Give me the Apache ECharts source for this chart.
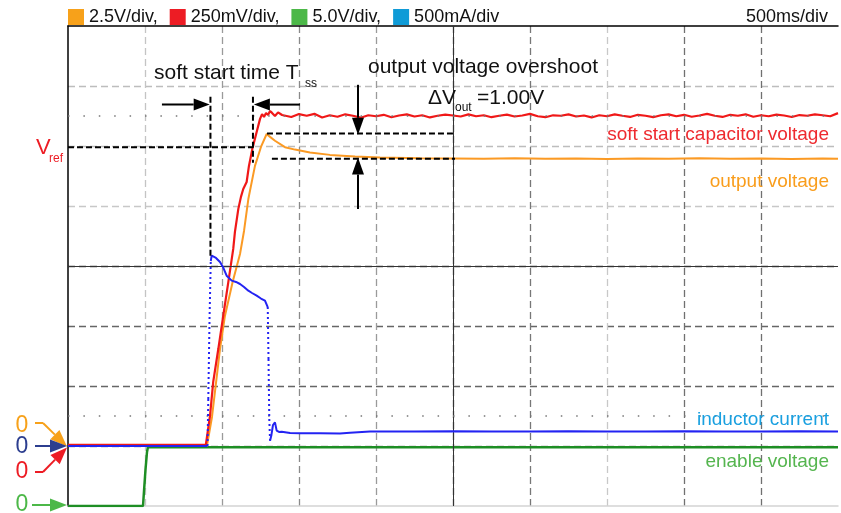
<!DOCTYPE html>
<html><head><meta charset="utf-8">
<script src="https://cdn.jsdelivr.net/npm/echarts@6/dist/echarts.min.js"></script>
<style>html,body{margin:0;padding:0;background:#fff}#c{width:841px;height:513px}</style>
</head><body><div id="c"></div>
<script>
// ---- data (time in ms, values in physical units) ----
const legendLabels = ['2.5V/div,', '250mV/div,', '5.0V/div,', '500mA/div'];
const timeLabel = '500ms/div';
const traceLabels = ['soft start capacitor voltage', 'output voltage', 'inductor current', 'enable voltage'];
const voltsPerDiv = [2.5, 0.25, 5.0, 0.5];     // orange, red, green, blue
const zeroDivs = [-3, -3, -4, -3];

// output voltage (V)
const outputVoltage = [[-2500,0],[-1598,0],[-1565,1.21],[-1513,4.04],[-1481,5.42],[-1431,6.83],[-1383,8.0],[-1357,8.96],[-1329,10.29],[-1286,11.67],[-1247,12.46],[-1210,13.0],[-1188,12.88],[-1156,12.72],[-1091,12.45],[-1026,12.35],[-929,12.23],[-799,12.13],[-636,12.06],[-474,12.02],[-214,11.99],[0,11.98],[200,11.97],[400,11.99],[600,11.97],[800,11.98],[1000,11.96],[1200,11.98],[1400,11.97],[1600,11.99],[1800,11.97],[2000,11.98],[2200,11.96],[2400,11.98],[2500,11.97]];
// soft start capacitor voltage (V)
const softStartVoltage = [[-2500,0.005],[-1605,0.005],[-1600,0.008],[-1578,0.125],[-1557,0.267],[-1524,0.404],[-1492,0.542],[-1459,0.683],[-1427,0.821],[-1416,0.892],[-1394,0.988],[-1377,1.038],[-1362,1.071],[-1340,1.100],[-1325,1.167],[-1303,1.238],[-1275,1.308],[-1253,1.363],[-1240,1.383],[-1227,1.371],[-1214,1.388],[-1201,1.379],[-1188,1.396],[-1175,1.388],[-1156,1.375],[-1136,1.390],[-1110,1.379],
[-1050,1.371],[-1000,1.383],[-950,1.376],[-900,1.384],[-850,1.369],[-800,1.378],[-750,1.372],[-700,1.382],[-650,1.376],[-600,1.368],[-550,1.378],[-500,1.374],[-450,1.380],[-400,1.370],[-350,1.377],[-300,1.382],[-250,1.373],[-200,1.378],[-150,1.369],[-100,1.376],[-50,1.381],[0,1.377],[50,1.373],[100,1.382],[150,1.374],[200,1.378],[250,1.370],[300,1.376],[350,1.381],[400,1.373],[450,1.377],[500,1.384],[550,1.374],[600,1.370],[650,1.378],[700,1.376],[750,1.382],[800,1.373],[850,1.377],[900,1.369],[950,1.378],[1000,1.374],[1050,1.382],[1100,1.376],[1150,1.371],[1200,1.380],[1250,1.376],[1300,1.370],[1350,1.378],[1400,1.382],[1450,1.374],[1500,1.380],[1550,1.372],[1600,1.377],[1650,1.384],[1700,1.376],[1750,1.371],[1800,1.380],[1850,1.376],[1900,1.382],[1950,1.372],[2000,1.378],[2050,1.374],[2100,1.381],[2150,1.377],[2200,1.371],[2250,1.379],[2300,1.376],[2350,1.382],[2400,1.378],[2450,1.374],[2500,1.387]];
// enable voltage (V)
const enableVoltage = [[-2500,0],[-2013,0],[-2006,1.33],[-1997,3.0],[-1987,4.5],[-1981,4.9],[2500,4.9]];
// inductor current (A)
const inductorCurrent = [[-2500,0],[-1594,0],[-1589,0.392],[-1581,1.058],[-1573,1.542],[-1567,1.586],[-1539,1.567],[-1513,1.533],[-1494,1.492],[-1470,1.419],[-1437,1.378],[-1409,1.367],[-1383,1.350],[-1357,1.325],[-1329,1.294],[-1305,1.275],[-1275,1.253],[-1247,1.229],[-1221,1.211],[-1203,1.158],[-1198,0.725],[-1193,0.225],[-1188,0.044],[-1179,0.092],[-1169,0.175],[-1156,0.197],[-1145,0.128],[-1130,0.117],[-1112,0.119],[-1058,0.108],[-994,0.106],[-864,0.106],[-734,0.104],[-669,0.111],[-539,0.121],[-250,0.120],[0,0.122],[250,0.120],[500,0.121],[750,0.122],[1000,0.120],[1250,0.121],[1500,0.122],[1750,0.121],[2000,0.120],[2250,0.122],[2500,0.121]];

// annotation anchors (ms, divisions / volts)
const vrefVolts = 1.245;
const tssStart = -1575, tssEnd = -1299;
const overshootPeak = 13.02, overshootSettled = 11.97;

// ---- rendering ----
const FONT = '"Liberation Sans", Arial, Helvetica, sans-serif';
const legendColors = ['#f7a11a', '#ed1c24', '#4cb848', '#0f9bd7'];
const traceColors = ['#fb9a24', '#f01818', '#1e8e24', '#2323f2'];
const toDiv = (arr, k) => arr.map(([t, v]) => [t, v / voltsPerDiv[k] + zeroDivs[k]]);

// split the current trace into slow (solid) parts and fast edges (drawn dotted, as on the scope)
const blueDiv = toDiv(inductorCurrent, 3);
const blueSolid = [], blueEdges = [];
for (let i = 0; i < blueDiv.length; i++) {
  blueSolid.push(blueDiv[i]);
  if (i < blueDiv.length - 1) {
    const a = inductorCurrent[i], b = inductorCurrent[i + 1];
    const fast = Math.abs(b[1] - a[1]) / (b[0] - a[0]) > 0.02;
    if (fast) {
      blueSolid.push([(a[0] + b[0]) / 2, '-']);
      blueEdges.push(blueDiv[i], blueDiv[i + 1], [(a[0] + b[0]) / 2, '-']);
    }
  }
}

const chart = echarts.init(document.getElementById('c'), null, {renderer: 'canvas'});

const option = {
  animation: false,
  backgroundColor: '#fff',
  textStyle: {fontFamily: FONT},
  grid: {left: 68, right: 3, top: 26, bottom: 7},
  legend: {
    left: 68, top: 8, padding: 0, itemWidth: 16, itemHeight: 16, itemGap: 12, icon: 'rect',
    selectedMode: false,
    textStyle: {fontSize: 18, color: '#111', fontFamily: FONT, padding: [2, 0, 0, 0]},
    data: legendLabels.map((n, i) => ({name: n, itemStyle: {color: legendColors[i]}}))
  },
  xAxis: [{
    type: 'value', min: -2500, max: 2500, interval: 500,
    axisLine: {show: true, onZero: false, lineStyle: {color: '#d4d4d4', width: 1.5}},
    axisTick: {show: false}, axisLabel: {show: false},
    splitLine: {show: true, lineStyle: {type: [7, 4], width: 1.3,
      color: ['rgba(0,0,0,0)', '#c4c4c4', '#9a9a9a', '#8a8a8a', '#9a9a9a', '#444', '#777', '#c8c8c8', '#707070', '#707070', 'rgba(0,0,0,0)']}}
  }, {
    type: 'value', position: 'top', min: -2500, max: 2500, interval: 500,
    axisLine: {show: true, onZero: false, lineStyle: {color: '#000', width: 1.5}},
    axisTick: {show: false}, axisLabel: {show: false}, splitLine: {show: false}
  }],
  yAxis: [{
    type: 'value', min: -4, max: 4, interval: 1,
    axisLine: {show: true, onZero: false, lineStyle: {color: '#000', width: 1.5}},
    axisTick: {show: false}, axisLabel: {show: false},
    splitLine: {show: true, lineStyle: {type: [7, 4], width: 1.3,
      color: ['rgba(0,0,0,0)', '#999', '#666', '#666', '#444', '#c8c8c8', '#bdbdbd', '#bdbdbd', 'rgba(0,0,0,0)']}}
  }],
  series: [
    {name: legendLabels[2], type: 'line', data: toDiv(enableVoltage, 2), color: traceColors[2], showSymbol: false, lineStyle: {width: 2.5}, z: 2,
      markLine: {silent: true, symbol: ['none', 'none'], label: {show: false},
        data: [
          {xAxis: 0, lineStyle: {type: 'solid', color: '#333', width: 1}},
          {yAxis: 0, lineStyle: {type: 'solid', color: '#333', width: 1}},
          {yAxis: 2.5, lineStyle: {type: [1.5, 13.9], color: '#777', width: 1.5}},
          {yAxis: -2.5, lineStyle: {type: [1.5, 13.9], color: '#777', width: 1.5}}
        ]}},
    {name: legendLabels[0], type: 'line', data: toDiv(outputVoltage, 0), color: traceColors[0], showSymbol: false, lineStyle: {width: 2}, z: 3},
    {name: legendLabels[1], type: 'line', data: toDiv(softStartVoltage, 1), color: traceColors[1], showSymbol: false, lineStyle: {width: 2.2}, z: 4},
    {name: legendLabels[3], type: 'line', data: blueSolid, color: traceColors[3], showSymbol: false, connectNulls: false, lineStyle: {width: 2}, z: 5},
    {name: 'edges', type: 'line', data: blueEdges, color: traceColors[3], showSymbol: false, connectNulls: false, lineStyle: {width: 2, type: [2, 3]}, z: 5}
  ]
};
chart.setOption(option);

// ---- annotations ----
const P = (t, d) => chart.convertToPixel({xAxisIndex: 0, yAxisIndex: 0}, [t, d]);
const g = [];
const dash = {stroke: '#000', lineWidth: 2, lineDash: [6, 3]};
function dline(a, b) { g.push({type: 'line', shape: {x1: a[0], y1: a[1], x2: b[0], y2: b[1]}, style: dash, z: 50}); }
function arrow(tail, tip, color, L, W, lw) {
  const dx = tip[0] - tail[0], dy = tip[1] - tail[1], len = Math.hypot(dx, dy);
  const ux = dx / len, uy = dy / len, bx = tip[0] - ux * L, by = tip[1] - uy * L;
  g.push({type: 'line', shape: {x1: tail[0], y1: tail[1], x2: bx, y2: by}, style: {stroke: color, lineWidth: lw}, z: 50});
  g.push({type: 'polygon', shape: {points: [tip, [bx - uy * W, by + ux * W], [bx + uy * W, by - ux * W]]}, style: {fill: color}, z: 50});
}
function polyArrow(pts, color, L, W, lw) {
  if (pts.length > 2) g.push({type: 'polyline', shape: {points: pts.slice(0, -1)}, style: {stroke: color, lineWidth: lw, fill: null}, z: 50});
  arrow(pts[pts.length - 2], pts[pts.length - 1], color, L, W, lw);
}
function txt(x, y, s, size, color, align, va) {
  g.push({type: 'text', x: x, y: y, z: 60, style: {text: s, fontSize: size, fontFamily: FONT, fill: color, align: align || 'left', verticalAlign: va || 'middle'}});
}

const vrefDiv = vrefVolts / voltsPerDiv[1] + zeroDivs[1];
const topDiv = 2.82;
const arrowDiv = 2.69;
dline(P(-2500, vrefDiv), P(tssEnd, vrefDiv));
dline(P(tssStart, topDiv), P(tssStart, 0.17));
dline(P(tssEnd, topDiv), P(tssEnd, 1.72));
arrow(P(-1890, arrowDiv), P(tssStart - 5, arrowDiv), '#000', 16, 6, 2);
arrow(P(-994, arrowDiv), P(tssEnd + 6, arrowDiv), '#000', 16, 6, 2);
const pkDiv = overshootPeak / voltsPerDiv[0] + zeroDivs[0];
const stDiv = overshootSettled / voltsPerDiv[0] + zeroDivs[0];
dline(P(-1208, pkDiv), P(13, pkDiv));
dline(P(-1176, stDiv), P(13, stDiv));
arrow(P(-617, 3.02), P(-617, pkDiv - 0.02), '#000', 17, 6, 2);
arrow(P(-617, 0.95), P(-617, stDiv + 0.02), '#000', 17, 6, 2);

// left zero markers
const base3 = P(-2500, -3), base4 = P(-2500, -4);
const lx = base3[0] - 1;
txt(22, 426, '0', 23, '#f7a11a', 'center');
polyArrow([[35, 423], [43, 423], [lx, base3[1] + 0.5]], '#f7a11a', 17, 6.5, 2);
txt(22, 447, '0', 23, '#2c3e8f', 'center');
polyArrow([[35, base3[1]], [lx, base3[1]]], '#2c3e8f', 17, 6.5, 2);
txt(22, 472, '0', 23, '#ed1c24', 'center');
polyArrow([[35, 472], [43, 472], [lx, base3[1] + 1.5]], '#ed1c24', 17, 6.5, 2);
txt(22, 505, '0', 23, '#4cb848', 'center');
polyArrow([[32, base4[1] - 1], [lx, base4[1] - 1]], '#4cb848', 17, 6.5, 2);

// Vref label
txt(36, 148, 'V', 22, '#ed1c24', 'left');
txt(49, 158.5, 'ref', 12, '#ed1c24', 'left');

// top annotations
txt(154, 73, 'soft start time T', 21, '#111', 'left');
txt(305, 84, 'ss', 12, '#111', 'left');
txt(368, 67, 'output voltage overshoot', 21, '#111', 'left');
txt(428, 98, '\u0394V', 21, '#111', 'left');
txt(455, 107.5, 'out', 12, '#111', 'left');
txt(477, 98, '=1.00V', 21, '#111', 'left');

// header right
txt(828, 17, timeLabel, 18, '#111', 'right');

// trace labels
txt(829, 135, traceLabels[0], 19, '#ee2a2f', 'right');
txt(829, 182, traceLabels[1], 19, '#f99d1c', 'right');
txt(829, 420, traceLabels[2], 19, '#1aa0e0', 'right');
txt(829, 461.5, traceLabels[3], 19, '#55b54f', 'right');

chart.setOption({graphic: g});
</script>
</body></html>
